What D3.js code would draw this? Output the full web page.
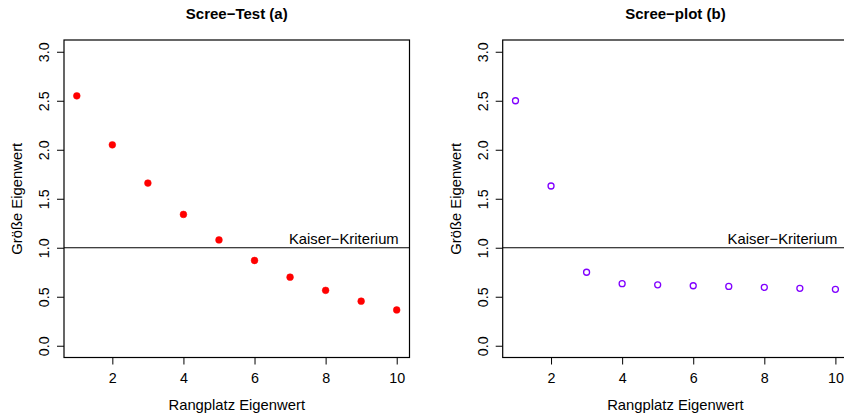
<!DOCTYPE html>
<html>
<head>
<meta charset="utf-8">
<title>Scree-Test</title>
<script src="https://d3js.org/d3.v7.min.js"></script>
<style>
  body { margin: 0; background: #fff; }
  text { font-family: "Liberation Sans", Arial, Helvetica, sans-serif; fill: #000; }
</style>
</head>
<body>
<div id="chart"></div>
<script>
// Rangplatz der Eigenwerte
var ranks = [1, 2, 3, 4, 5, 6, 7, 8, 9, 10];
// Eigenwerte Panel (a) und (b)
var eigenA = [2.55, 2.05, 1.66, 1.34, 1.08, 0.87, 0.70, 0.565, 0.455, 0.365];
var eigenB = [2.50, 1.63, 0.75, 0.633, 0.622, 0.612, 0.605, 0.596, 0.586, 0.576];
var xTicks = [2, 4, 6, 8, 10];
var yTicks = [0, 0.5, 1, 1.5, 2, 2.5, 3];
var kaiser = 1;

var W = 844, H = 418;
var svg = d3.select("#chart").append("svg")
  .attr("width", W)
  .attr("height", H);

var panels = [
  { title: "Scree\u2212Test (a)", data: eigenA, left: 64, filled: true, color: "#ff0000" },
  { title: "Scree\u2212plot (b)", data: eigenB, left: 502.7, filled: false, color: "#8000ff" }
];

var pw = 345.5, plotTop = 40, plotBottom = 357.5;

panels.forEach(function (p) {
  var x = d3.scaleLinear().domain([0.64, 10.36]).range([p.left, p.left + pw]);
  var y = d3.scaleLinear().domain([-0.12, 3.12]).range([plotBottom, plotTop]);
  var g = svg.append("g");

  // x axis
  var xa = g.append("g")
    .attr("transform", "translate(0," + plotBottom + ")")
    .call(d3.axisBottom(x).tickValues(xTicks).tickSize(7).tickPadding(8).tickFormat(d3.format("d")));
  xa.select(".domain").remove();
  xa.selectAll("line").attr("stroke", "#000");
  xa.selectAll("text").style("font-size", "14.3px").attr("font-family", null);

  // y axis, labels rotated like R
  var ya = g.append("g")
    .attr("transform", "translate(" + p.left + ",0)")
    .call(d3.axisLeft(y).tickValues(yTicks).tickSize(7).tickFormat(d3.format(".1f")));
  ya.select(".domain").remove();
  ya.selectAll("line").attr("stroke", "#000");
  ya.selectAll("text")
    .attr("transform", "rotate(-90)")
    .attr("x", 0)
    .attr("y", -15)
    .attr("dy", 0)
    .attr("text-anchor", "middle")
    .attr("font-family", null)
    .style("font-size", "14.3px");

  // box
  g.append("rect")
    .attr("x", p.left).attr("y", plotTop)
    .attr("width", pw).attr("height", plotBottom - plotTop)
    .attr("fill", "none").attr("stroke", "#000").attr("stroke-width", 1.2);

  // Kaiser-Kriterium
  g.append("line")
    .attr("x1", p.left).attr("x2", p.left + pw)
    .attr("y1", y(kaiser)).attr("y2", y(kaiser))
    .attr("stroke", "#000").attr("stroke-width", 1.1);
  g.append("text")
    .attr("x", x(10) + 2).attr("y", y(kaiser) - 4)
    .attr("text-anchor", "end")
    .style("font-size", "14.8px")
    .text("Kaiser\u2212Kriterium");

  // points
  g.selectAll("circle.pt")
    .data(p.data)
    .enter()
    .append("circle")
    .attr("class", "pt")
    .attr("cx", function (d, i) { return x(ranks[i]); })
    .attr("cy", function (d) { return y(d); })
    .attr("r", p.filled ? 3.4 : 3)
    .attr("fill", p.filled ? p.color : "none")
    .attr("stroke", p.color)
    .attr("stroke-width", p.filled ? 0.5 : 1.3);

  // titles and labels
  g.append("text")
    .attr("x", p.left + pw / 2).attr("y", 19)
    .attr("text-anchor", "middle")
    .style("font-size", "15px").style("font-weight", "bold")
    .text(p.title);
  g.append("text")
    .attr("x", p.left + pw / 2).attr("y", 410)
    .attr("text-anchor", "middle")
    .style("font-size", "14.8px")
    .text("Rangplatz Eigenwert");
  g.append("text")
    .attr("transform", "translate(" + (p.left - 42) + "," + ((plotTop + plotBottom) / 2) + ") rotate(-90)")
    .attr("text-anchor", "middle")
    .style("font-size", "14.8px")
    .text("Größe Eigenwert");
});
</script>
</body>
</html>
